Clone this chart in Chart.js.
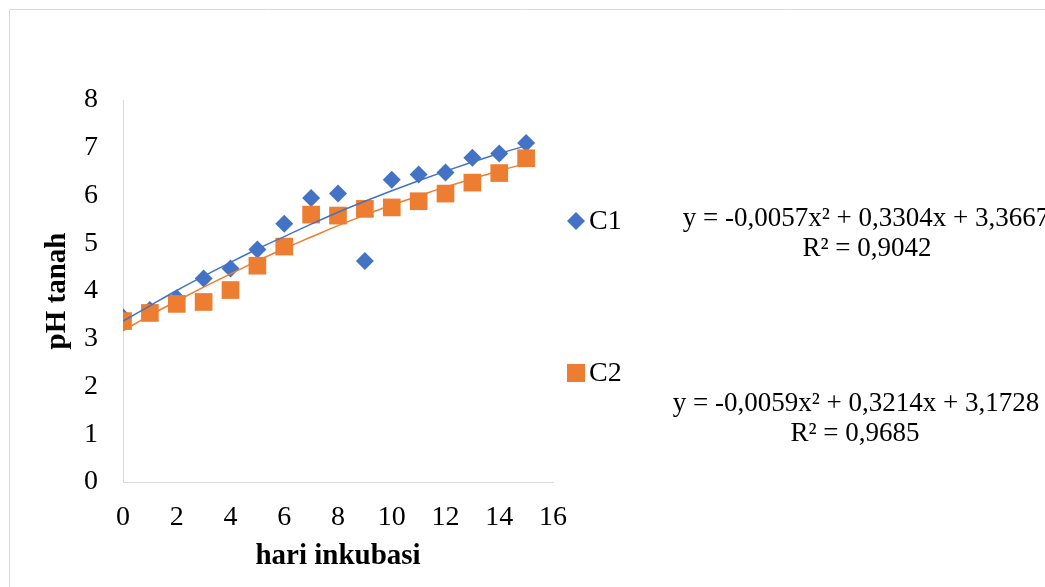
<!DOCTYPE html>
<html>
<head>
    <title>pH tanah vs hari inkubasi</title>
    <script src="https://cdn.jsdelivr.net/npm/chart.js"></script>
    <style>
        html, body { margin: 0; padding: 0; background: #fff; }
        .chart-container { position: relative; width: 1045px; height: 587px; }
    </style>
</head>
<body>
    <div class="chart-container">
        <canvas id="phChart"></canvas>
    </div>

    <script>
        // data
        const days = [0, 1, 2, 3, 4, 5, 6, 7, 8, 9, 10, 11, 12, 13, 14, 15];
        const c1 = [3.45, 3.6, 3.85, 4.26, 4.47, 4.87, 5.41, 5.95, 6.04, 4.63, 6.33, 6.44, 6.48, 6.79, 6.88, 7.1];
        const c2 = [3.37, 3.54, 3.73, 3.77, 4.02, 4.53, 4.93, 5.6, 5.58, 5.72, 5.75, 5.88, 6.04, 6.27, 6.47, 6.78];
        // trendline values at each day (polynomial trendlines shown in the picture)
        const c1Trend = [3.37, 3.69, 4.01, 4.31, 4.6, 4.88, 5.14, 5.4, 5.65, 5.88, 6.1, 6.31, 6.51, 6.7, 6.88, 7.04];
        const c2Trend = [3.17, 3.49, 3.79, 4.08, 4.36, 4.63, 4.89, 5.13, 5.37, 5.59, 5.8, 5.99, 6.18, 6.35, 6.52, 6.67];
        const seriesNames = ['C1', 'C2'];
        const equations = ['y = -0,0057x\u00b2 + 0,3304x + 3,3667', 'y = -0,0059x\u00b2 + 0,3214x + 3,1728'];
        const rSquared = ['R\u00b2 = 0,9042', 'R\u00b2 = 0,9685'];

        const blue = '#4472C4';
        const orange = '#ED7D31';
        const serif = "'Liberation Serif', 'Times New Roman', serif";

        const pts = (xs, ys) => xs.map((x, i) => ({ x: x, y: ys[i] }));

        // frame, legend and trendline labels
        const extras = {
            id: 'extras',
            afterDraw(chart) {
                const ctx = chart.ctx;
                ctx.save();
                ctx.strokeStyle = '#d9d9d9';
                ctx.lineWidth = 1;
                ctx.beginPath();
                ctx.moveTo(9.5, 600);
                ctx.lineTo(9.5, 9.5);
                ctx.lineTo(1100, 9.5);
                ctx.stroke();

                // legend
                ctx.fillStyle = blue;
                ctx.beginPath();
                ctx.moveTo(576, 212); ctx.lineTo(585, 221); ctx.lineTo(576, 230); ctx.lineTo(567, 221);
                ctx.closePath();
                ctx.fill();
                ctx.fillStyle = orange;
                ctx.fillRect(567, 364, 18, 18);

                ctx.fillStyle = '#000';
                ctx.font = '28px ' + serif;
                ctx.textAlign = 'left';
                ctx.textBaseline = 'middle';
                ctx.fillText(seriesNames[0], 589, 222);
                ctx.fillText(seriesNames[1], 589, 374);

                ctx.font = '27px ' + serif;
                ctx.textAlign = 'center';
                ctx.textBaseline = 'alphabetic';
                ctx.fillText(equations[0], 866, 226);
                ctx.fillText(rSquared[0], 867, 256);
                ctx.fillText(equations[1], 856, 411);
                ctx.fillText(rSquared[1], 855, 441);
                ctx.restore();
            }
        };

        const ctx = document.getElementById('phChart').getContext('2d');
        const phChart = new Chart(ctx, {
            type: 'scatter',
            data: {
                datasets: [
                    {
                        label: 'Poly. (C1)',
                        data: pts(days, c1Trend),
                        showLine: true,
                        borderColor: blue,
                        borderWidth: 1.5,
                        pointRadius: 0,
                        tension: 0.4,
                        cubicInterpolationMode: 'monotone',
                        order: 0
                    },
                    {
                        label: 'Poly. (C2)',
                        data: pts(days, c2Trend),
                        showLine: true,
                        borderColor: orange,
                        borderWidth: 1.5,
                        pointRadius: 0,
                        tension: 0.4,
                        cubicInterpolationMode: 'monotone',
                        order: 1
                    },
                    {
                        label: seriesNames[1],
                        data: pts(days, c2),
                        pointStyle: 'rect',
                        pointRadius: 12.5,
                        pointHoverRadius: 12.5,
                        backgroundColor: orange,
                        borderColor: orange,
                        borderWidth: 0,
                        order: 2
                    },
                    {
                        label: seriesNames[0],
                        data: pts(days, c1),
                        pointStyle: 'rectRot',
                        pointRadius: 9,
                        pointHoverRadius: 9,
                        backgroundColor: blue,
                        borderColor: blue,
                        borderWidth: 0,
                        order: 3
                    }
                ]
            },
            options: {
                responsive: true,
                maintainAspectRatio: false,
                animation: false,
                layout: { padding: { left: 0, right: 492, top: 100, bottom: 0 } },
                plugins: {
                    legend: { display: false },
                    tooltip: { enabled: false }
                },
                scales: {
                    x: {
                        type: 'linear',
                        min: 0,
                        max: 16,
                        grid: { display: false, drawTicks: false },
                        border: { display: true, color: '#d9d9d9', width: 1 },
                        ticks: { stepSize: 2, padding: 19, color: '#000', font: { family: serif, size: 28 } },
                        title: {
                            display: true,
                            text: 'hari inkubasi',
                            color: '#000',
                            font: { family: serif, size: 29, weight: 'bold' },
                            padding: { top: 0, bottom: 13 }
                        },
                        afterFit(scale) { scale.height = 105; }
                    },
                    y: {
                        min: 0,
                        max: 8,
                        grid: { display: false, drawTicks: false },
                        border: { display: true, color: '#d9d9d9', width: 1 },
                        ticks: { stepSize: 1, padding: 25, color: '#000', font: { family: serif, size: 28 } },
                        title: {
                            display: true,
                            text: 'pH tanah',
                            color: '#000',
                            font: { family: serif, size: 29, weight: 'bold' },
                            padding: { top: 40, bottom: 0 }
                        },
                        afterFit(scale) { scale.width = 123; }
                    }
                }
            },
            plugins: [extras]
        });
    </script>
</body>
</html>
